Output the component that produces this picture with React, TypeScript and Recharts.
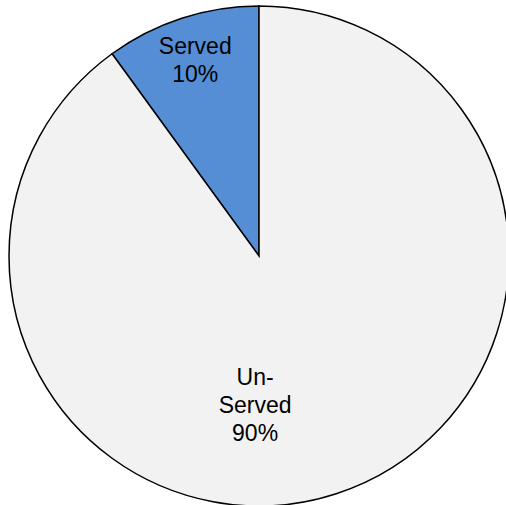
import React from 'react';
import { PieChart, Pie, Cell } from 'recharts';

const categories = ['Served', 'Un-Served'];
const shares = [10, 90];
const labelLines = [['Served', '10%'], ['Un-', 'Served', '90%']];
const colors = ['#558ED5', '#F2F2F2'];

const data = categories.map((name, i) => ({ name, value: shares[i] }));

const RADIAN = Math.PI / 180;
// label placement inside each slice (fraction of radius, angle tweak)
const labelRadius = [0.825, 0.596];
const labelAngleShift = [0, -19.5];

const renderLabel = (props: any) => {
  const { cx, cy, midAngle, outerRadius, index } = props;
  const r = outerRadius * labelRadius[index];
  const a = (midAngle + labelAngleShift[index]) * RADIAN;
  const x = cx + r * Math.cos(-a);
  const y = cy + r * Math.sin(-a);
  const lines = labelLines[index];
  const lh = 28;
  const y0 = y - ((lines.length - 1) * lh) / 2;
  return (
    <text
      x={x}
      y={y0}
      textAnchor="middle"
      dominantBaseline="central"
      fill="#000"
      fontSize={23}
      fontFamily="'Liberation Sans', Arial, sans-serif"
    >
      {lines.map((l, i) => (
        <tspan key={i} x={x} y={y0 + i * lh} dominantBaseline="central">
          {l}
        </tspan>
      ))}
    </text>
  );
};

export default function App() {
  return (
    <div style={{ position: 'fixed', left: 0, top: 0, width: 506, height: 505, overflow: 'hidden', background: '#fff' }}>
      <PieChart width={506} height={505} margin={{ top: 0, right: 0, bottom: 0, left: 0 }}>
        <Pie
          data={data}
          dataKey="value"
          nameKey="name"
          cx={259}
          cy={256}
          outerRadius={250}
          startAngle={90}
          endAngle={450}
          stroke="#000"
          strokeWidth={1.5}
          label={renderLabel}
          labelLine={false}
          isAnimationActive={false}
        >
          {data.map((d, i) => (
            <Cell key={d.name} fill={colors[i]} />
          ))}
        </Pie>
      </PieChart>
    </div>
  );
}
